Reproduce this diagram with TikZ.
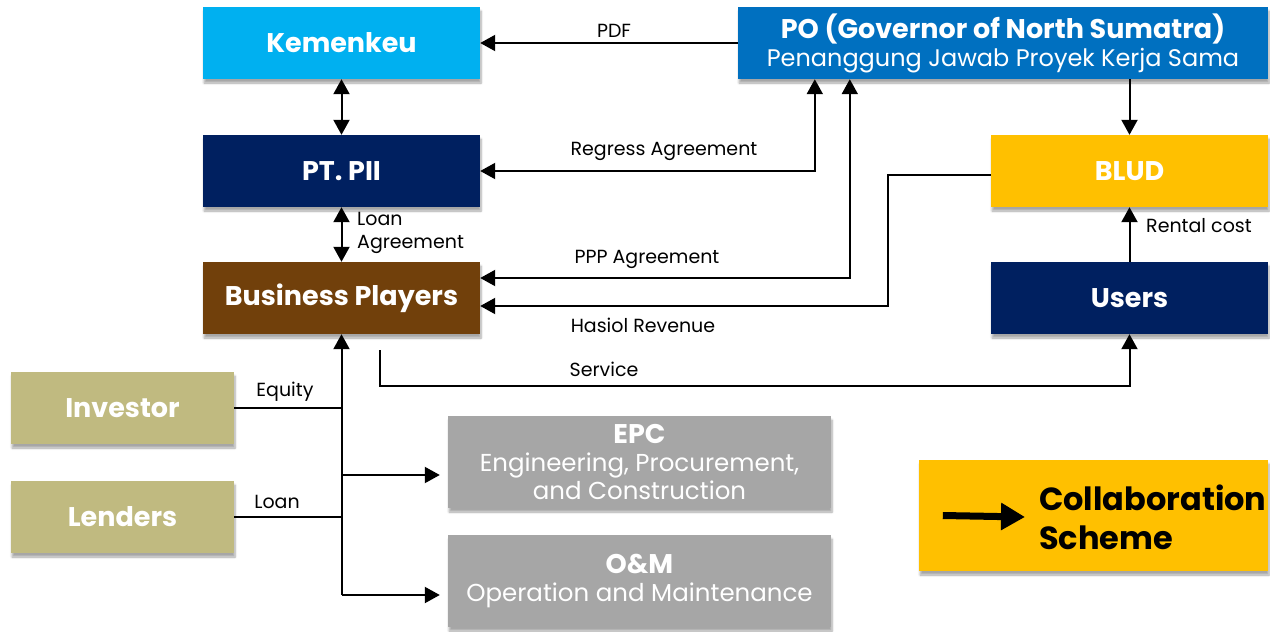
\documentclass[tikz,border=0pt]{standalone}
\usepackage{fontspec}
\setmainfont{Poppins}
\usetikzlibrary{arrows.meta,shadows.blur,calc}
\definecolor{kblue}{HTML}{00B0F0}
\definecolor{pblue}{HTML}{0070C0}
\definecolor{navy}{HTML}{002060}
\definecolor{gold}{HTML}{FFC000}
\definecolor{brown}{HTML}{71400B}
\definecolor{olive}{HTML}{C0BA80}
\definecolor{gbox}{HTML}{A6A6A6}
\newcommand{\subf}{\fontsize{24.5}{28}\selectfont\mdseries}
\tikzset{
  box/.style={inner sep=0pt, align=center, text=white, font=\fontsize{27}{31}\selectfont\bfseries,
    blur shadow={shadow xshift=1pt, shadow yshift=-4pt, shadow blur steps=6, shadow opacity=35}},
  lbl/.style={inner sep=0pt, font=\fontsize{19}{23}\selectfont, text=black, align=left},
  conn/.style={line width=2pt, draw=black},
  arr/.style={conn, -{Triangle[length=15pt,width=16pt]}},
  arrb/.style={conn, {Triangle[length=15pt,width=16pt]}-{Triangle[length=15pt,width=16pt]}},
}
\begin{document}
\begin{tikzpicture}[x=1pt,y=-1pt]
\useasboundingbox (0,0) rectangle (1270,632);
% boxes
\node[box, fill=kblue, minimum width=277pt, minimum height=72pt] (kem) at (341.5,43) {Kemenkeu};
\node[box, fill=pblue, minimum width=530pt, minimum height=72pt] (po) at (1003,43)
  {PO (Governor of North Sumatra)\\[-3pt]{\fontsize{24}{28}\selectfont\mdseries Penanggung Jawab Proyek Kerja Sama}};
\node[box, fill=navy, minimum width=277pt, minimum height=72pt] (pii) at (341.5,171) {PT. PII};
\node[box, fill=gold, minimum width=277pt, minimum height=72pt] (blud) at (1129.5,171) {BLUD};
\node[box, fill=brown, minimum width=277pt, minimum height=72pt] (bp) at (341.5,298) {Business Players};
\node[box, fill=navy, minimum width=277pt, minimum height=72pt] (users) at (1129.5,298) {\raisebox{-6pt}{Users}};
\node[box, fill=olive, minimum width=223pt, minimum height=72pt] (inv) at (122.5,408) {Investor};
\node[box, fill=olive, minimum width=223pt, minimum height=72pt] (len) at (122.5,517) {Lenders};
\node[box, fill=gbox, minimum width=383pt, minimum height=92pt] (epc) at (639.5,462)
  {EPC\\[-3pt]\subf Engineering, Procurement,\\[-3pt]\subf and Construction};
\node[box, fill=gbox, minimum width=383pt, minimum height=92pt] (om) at (639.5,581)
  {O\&M\\[-3pt]\subf Operation and Maintenance};
\node[box, fill=gold, minimum width=349pt, minimum height=111pt] (leg) at (1093.5,515.5) {};
\node[inner sep=0pt, align=left, anchor=west, text=black, font=\fontsize{32}{39}\selectfont\bfseries] (legt) at (1039,517) {Collaboration\\Scheme};
\draw[line width=7pt, -{Triangle[length=24pt,width=26pt]}] ([xshift=24pt]leg.west) -- ([xshift=-14pt]legt.west);
% connectors
\draw[arr] (po.west) -- (kem.east);
\node[lbl] (lpdf) at (614,31) {PDF};
\draw[arrb] (kem.south) -- (pii.north);
\draw[arrb] (pii.south) -- (bp.north);
\node[lbl, anchor=west] (lloan) at (357,233) {Loan\\Agreement};
\draw[arrb] (pii.east) -| ([xshift=77pt]po.south west);
\node[lbl] (lreg) at (664,151) {Regress Agreement};
\draw[arrb] ([yshift=20pt]bp.east) -| ([xshift=112pt]po.south west);
\node[lbl] (lppp) at (647,259) {PPP Agreement};
\coordinate (hb) at ([xshift=-103pt,yshift=-4pt]blud.west);
\draw[arr] ([yshift=-4pt]blud.west) -- (hb) |- ([yshift=-8pt]bp.east);
\node[lbl] (lhas) at (643,325) {Hasiol Revenue};
\coordinate (svc) at ([xshift=38pt,yshift=-16pt]bp.south);
\draw[arr] (svc) -- ++(0,36) -| (users.south);
\node[lbl] (lsvc) at (604,369) {Service};
\draw[arr] (po.south -| blud.north) -- (blud.north);
\draw[arr] (users.north) -- (blud.south);
\node[lbl] (lrent) at (1199,226) {Rental cost};
\coordinate (omin) at ([xshift=-8pt,yshift=-14pt]om.west);
\coordinate (epcin) at ([xshift=-8pt,yshift=-13pt]epc.west);
\draw[arr] (bp.south |- omin) -- (bp.south);
\draw[arr] (bp.south |- epcin) -- (epcin);
\draw[arr] (bp.south |- omin) -- (omin);
\draw[conn] (inv.east) -- (inv.east -| bp.south);
\node[lbl] (leq) at (285,392) {Equity};
\draw[conn] (len.east) -- (len.east -| bp.south);
\node[lbl] (lln) at (277,502) {Loan};
\end{tikzpicture}
\end{document}
